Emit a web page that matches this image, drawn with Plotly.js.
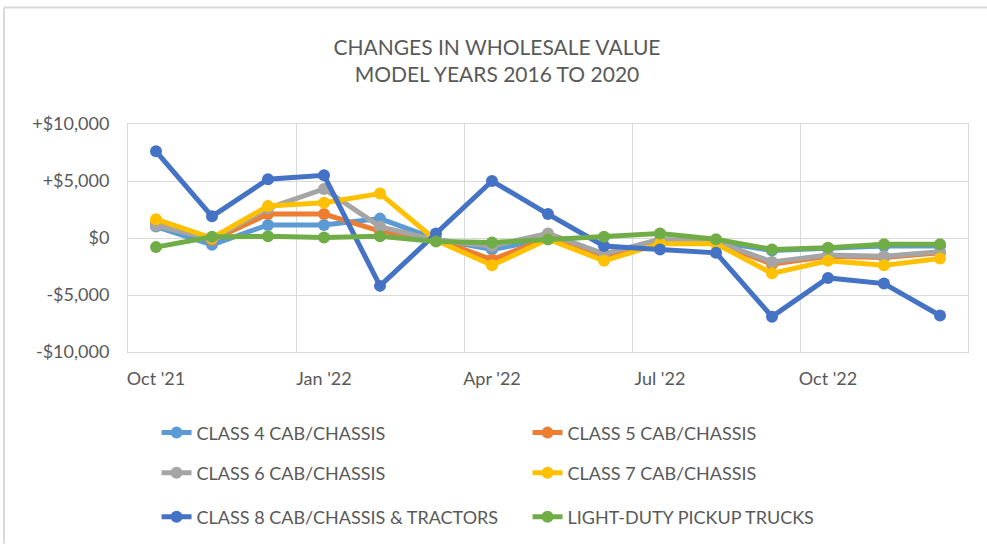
<!DOCTYPE html>
<html>
<head>
<meta charset="utf-8">
<script src="https://cdn.plot.ly/plotly-3.0.1.min.js"></script>
<style>html,body{margin:0;padding:0;background:#fff;}#chart{width:987px;height:545px;}</style>
</head>
<body>
<div id="chart"></div>
<script>
// ---- data ----
const months = ["Oct '21","Nov '21","Dec '21","Jan '22","Feb '22","Mar '22","Apr '22","May '22","Jun '22","Jul '22","Aug '22","Sep '22","Oct '22","Nov '22","Dec '22"];
const tickMonths = ["Oct '21","Jan '22","Apr '22","Jul '22","Oct '22"];
const yTickVals = [10000, 5000, 0, -5000, -10000];
const yTickText = ["+$10,000", "+$5,000", "$0", "-$5,000", "-$10,000"];

const class4 = [1000, -600, 1150, 1150, 1700, -100, -1000, -100, -1500, -300, -300, -1100, -900, -700, -700];
const class5 = [1300, -200, 2100, 2100, 600, -100, -1900, 0, -1700, -200, -400, -2300, -1600, -1700, -1300];
const class6 = [1100, -100, 2600, 4300, 1000, -200, -700, 400, -1400, -100, -300, -2100, -1500, -1600, -1200];
const class7 = [1650, 0, 2800, 3100, 3900, -200, -2400, -100, -2000, -500, -500, -3100, -2000, -2400, -1800];
const class8 = [7600, 1900, 5150, 5500, -4200, 400, 5000, 2100, -700, -1000, -1300, -6900, -3500, -4000, -6800];
const ldpt   = [-800, 100, 150, 50, 150, -300, -400, -100, 100, 400, -100, -1000, -850, -550, -550];

const seriesNames = ["CLASS 4 CAB/CHASSIS", "CLASS 5 CAB/CHASSIS", "CLASS 6 CAB/CHASSIS", "CLASS 7 CAB/CHASSIS", "CLASS 8 CAB/CHASSIS & TRACTORS", "LIGHT-DUTY PICKUP TRUCKS"];
const seriesValues = [class4, class5, class6, class7, class8, ldpt];
const seriesColors = ["#5B9BD5", "#ED7D31", "#A5A5A5", "#FFC000", "#4472C4", "#70AD47"];
const seriesLegends = ["legend", "legend", "legend2", "legend2", "legend3", "legend3"];

// boundaries between quarters for vertical gridlines (category index space)
const boundaryVals = [-0.5, 2.5, 5.5, 8.5, 11.5, 14.5];

const FONT = "Lato, 'Open Sans', sans-serif";
const TXT = "#595959";
const GRID = "#D9D9D9";

const traces = seriesNames.map((name, i) => ({
  type: "scatter",
  mode: "lines+markers",
  name: name,
  x: months,
  y: seriesValues[i],
  line: {color: seriesColors[i], width: 5},
  marker: {color: seriesColors[i], size: 12},
  legend: seriesLegends[i],
  xaxis: "x",
  yaxis: "y"
}));

// empty helper trace to carry the boundary gridline axis
traces.unshift({type: "scatter", x: [], y: [], xaxis: "x2", yaxis: "y", showlegend: false, hoverinfo: "skip"});

const legendCommon = {
  orientation: "h",
  xanchor: "left",
  yanchor: "middle",
  x: 0.034,
  entrywidth: 326,
  entrywidthmode: "pixels",
  font: {family: FONT, size: 18, color: TXT},
  bgcolor: "rgba(0,0,0,0)",
  itemclick: false
};

const layout = {
  width: 987,
  height: 545,
  paper_bgcolor: "#ffffff",
  plot_bgcolor: "#ffffff",
  margin: {l: 128, r: 19, t: 124, b: 192},
  font: {family: FONT, color: TXT},
  title: {
    text: "CHANGES IN WHOLESALE VALUE<br>MODEL YEARS 2016 TO 2020",
    font: {family: FONT, size: 21, color: TXT},
    x: 0.5035, xanchor: "center",
    y: 0.90, yanchor: "top"
  },
  xaxis: {
    type: "category",
    categoryorder: "array",
    categoryarray: months,
    range: [-0.5, 14.5],
    tickmode: "array",
    tickvals: tickMonths,
    ticktext: tickMonths,
    showgrid: false,
    zeroline: false,
    ticks: "",
    ticklabelstandoff: 10,
    showline: true,
    mirror: true,
    linecolor: GRID,
    linewidth: 1,
    tickfont: {family: FONT, size: 18, color: TXT}
  },
  xaxis2: {
    overlaying: "x",
    anchor: "y",
    type: "linear",
    range: [-0.5, 14.5],
    tickmode: "array",
    tickvals: boundaryVals,
    showticklabels: false,
    showgrid: true,
    gridcolor: GRID,
    gridwidth: 1,
    zeroline: false,
    ticks: ""
  },
  yaxis: {
    range: [-10000, 10000],
    tickmode: "array",
    tickvals: yTickVals,
    ticktext: yTickText,
    showgrid: true,
    gridcolor: GRID,
    gridwidth: 1,
    zeroline: false,
    ticks: "",
    ticklabelstandoff: 14,
    showline: true,
    mirror: true,
    linecolor: GRID,
    linewidth: 1,
    tickfont: {family: FONT, size: 18, color: TXT}
  },
  legend: Object.assign({}, legendCommon, {y: -0.349}),
  legend2: Object.assign({}, legendCommon, {y: -0.524}),
  legend3: Object.assign({}, legendCommon, {y: -0.716}),
  shapes: [
    {type: "line", xref: "paper", yref: "paper", x0: -0.1476, x1: 1.0226, y0: 1.511, y1: 1.511, line: {color: GRID, width: 2}},
    {type: "line", xref: "paper", yref: "paper", x0: -0.1476, x1: -0.1476, y0: 1.511, y1: -0.84, line: {color: GRID, width: 2}}
  ]
};

Plotly.newPlot("chart", traces, layout, {displayModeBar: false, staticPlot: true});
</script>
</body>
</html>
